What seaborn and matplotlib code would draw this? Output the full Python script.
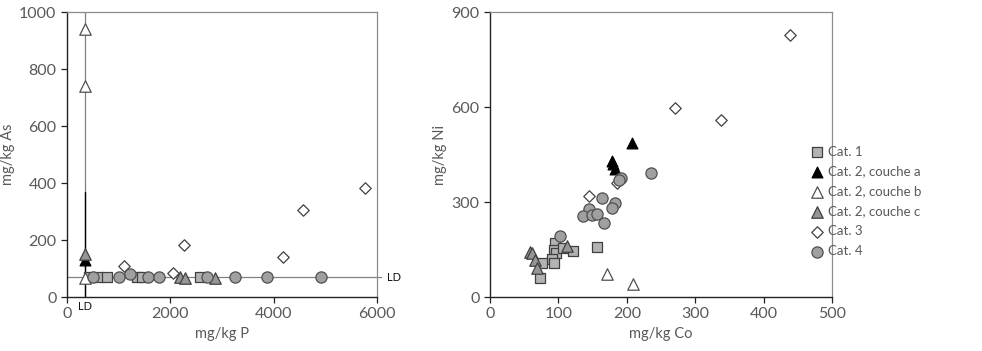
import numpy as np
import pandas as pd
import matplotlib
matplotlib.use('Agg')
import matplotlib.pyplot as plt
import seaborn as sns

# ---- left panel: P vs As ----
p_cat1 = [600, 768, 1348, 1445, 2574, 420]
as_cat1 = [70, 70, 70, 70, 70, 70]
p_cat2a = [350]
as_cat2a = [130]
p_cat2b = [350, 350, 350]
as_cat2b = [940, 742, 68]
p_cat2c = [350, 2187, 2284, 2865]
as_cat2c = [152, 70, 68, 68]
p_cat3 = [1110, 2052, 2258, 4174, 4561, 5774]
as_cat3 = [108, 84, 184, 142, 304, 384]
p_cat4 = [497, 1012, 1219, 1574, 1787, 2703, 3252, 3865, 4910]
as_cat4 = [70, 70, 80, 70, 70, 70, 70, 70, 70]

# ---- right panel: Co vs Ni ----
co_cat1 = [95, 94, 96, 90, 93, 76, 73, 122, 106, 156]
ni_cat1 = [170, 148, 140, 119, 106, 106, 61, 146, 154, 159]
co_cat2a = [178, 180, 183, 207]
ni_cat2a = [430, 420, 403, 487]
co_cat2b = [171, 209]
ni_cat2b = [72, 42]
co_cat2c = [58, 62, 66, 69, 112]
ni_cat2c = [143, 138, 117, 91, 162]
co_cat3 = [439, 271, 337, 144, 185]
ni_cat3 = [826, 597, 558, 318, 360]
co_cat4 = [235, 192, 189, 163, 183, 178, 144, 136, 149, 157, 167, 103]
ni_cat4 = [393, 375, 368, 312, 298, 280, 277, 256, 259, 262, 233, 194]

labels = ['Cat. 1', 'Cat. 2, couche a', 'Cat. 2, couche b',
          'Cat. 2, couche c', 'Cat. 3', 'Cat. 4']
styles = [
    dict(marker='s', color='#b3b3b3', edgecolor='#404040', s=60),
    dict(marker='^', color='#000000', edgecolor='#000000', s=60),
    dict(marker='^', color='#ffffff', edgecolor='#505050', s=68),
    dict(marker='^', color='#969696', edgecolor='#404040', s=68),
    dict(marker='D', color='#ffffff', edgecolor='#404040', s=34),
    dict(marker='o', color='#a0a0a0', edgecolor='#505050', s=65),
]

sns.set_style('white')
plt.rcParams['font.family'] = ['Lato', 'DejaVu Sans']

fig = plt.figure(figsize=(9.82, 3.51), dpi=100)
ax1 = fig.add_axes([0.0682, 0.1538, 0.3157, 0.812])
ax2 = fig.add_axes([0.499, 0.1538, 0.3483, 0.812])

left_sets = [(p_cat1, as_cat1), (p_cat2a, as_cat2a), (p_cat2b, as_cat2b),
             (p_cat2c, as_cat2c), (p_cat3, as_cat3), (p_cat4, as_cat4)]
right_sets = [(co_cat1, ni_cat1), (co_cat2a, ni_cat2a), (co_cat2b, ni_cat2b),
              (co_cat2c, ni_cat2c), (co_cat3, ni_cat3), (co_cat4, ni_cat4)]

# detection limit lines
ax1.axvline(350, color='#808080', lw=0.9, zorder=1)
ax1.plot([350, 350], [0, 370], color='#000000', lw=1.0, zorder=1)
ax1.plot([0, 6080], [70, 70], color='#808080', lw=0.9, zorder=1, clip_on=False)
ax1.text(6200, 70, 'LD', fontsize=8, va='center', ha='left', color='#111111')
ax1.text(350, -14, 'LD', fontsize=8, va='top', ha='center', color='#111111')

for (x, y), lab, st in zip(left_sets, labels, styles):
    sns.scatterplot(x=x, y=y, ax=ax1, marker=st['marker'], color=st['color'],
                    edgecolor=st['edgecolor'], s=st['s'], linewidth=0.9, zorder=3)
for (x, y), lab, st in zip(right_sets, labels, styles):
    sns.scatterplot(x=x, y=y, ax=ax2, marker=st['marker'], color=st['color'],
                    edgecolor=st['edgecolor'], s=st['s'], linewidth=0.9, zorder=3,
                    label=lab)

ax1.set_xlim(0, 6000)
ax1.set_ylim(0, 1000)
ax1.set_xticks([0, 2000, 4000, 6000])
ax1.set_yticks(range(0, 1001, 200))
ax1.set_xlabel('mg/kg P', fontsize=10.5, color='#595959', labelpad=4)
ax1.set_ylabel('mg/kg As', fontsize=10.5, color='#595959')
ax1.yaxis.set_label_coords(-0.168, 0.5)

ax2.set_xlim(0, 500)
ax2.set_ylim(0, 900)
ax2.set_xticks(range(0, 501, 100))
ax2.set_yticks([0, 300, 600, 900])
ax2.set_xlabel('mg/kg Co', fontsize=10.5, color='#595959', labelpad=4)
ax2.set_ylabel('mg/kg Ni', fontsize=10.5, color='#595959')
ax2.yaxis.set_label_coords(-0.126, 0.5)

for ax in (ax1, ax2):
    for side in ('top', 'right'):
        ax.spines[side].set_color('#8c8c8c')
        ax.spines[side].set_linewidth(0.9)
    for side in ('left', 'bottom'):
        ax.spines[side].set_color('#222222')
        ax.spines[side].set_linewidth(1.0)
    ax.tick_params(axis='both', direction='out', length=4, width=0.9,
                   color='#222222', labelcolor='#595959', labelsize=11.5,
                   bottom=True, left=True)

h, l = ax2.get_legend_handles_labels()
ax2.get_legend().remove()
fig.legend(h, l, loc='upper left', bbox_to_anchor=(0.82, 0.6), frameon=False,
           fontsize=9.5, labelcolor='#595959', handletextpad=0.35,
           handlelength=1.0, labelspacing=0.6, borderaxespad=0)

fig.savefig('out.png', dpi=100)
